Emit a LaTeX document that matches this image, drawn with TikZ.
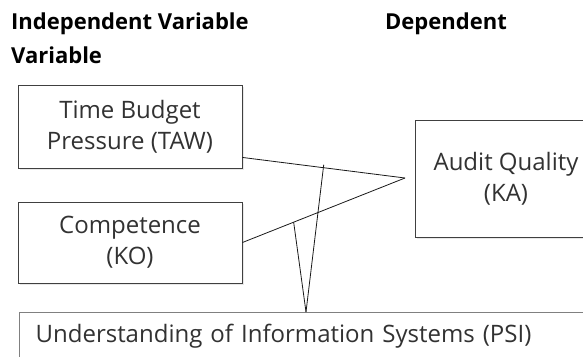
\documentclass[tikz,border=0pt]{standalone}
\usepackage{fontspec}
\setmainfont{Open Sans}
\usetikzlibrary{calc,shadows}
\definecolor{boxline}{RGB}{64,64,64}
\definecolor{psiline}{RGB}{128,128,128}
\definecolor{boxtext}{RGB}{50,50,50}
\tikzset{
  varbox/.style={draw=boxline, line width=0.9pt, fill=white, text=boxtext,
    align=center, inner sep=0pt, font=\fontsize{24}{31}\selectfont,
    drop shadow={shadow xshift=1.5pt, shadow yshift=-1.5pt, opacity=0.18}},
  headtxt/.style={anchor=base west, inner sep=0pt,
    font=\fontsize{22}{24}\selectfont\bfseries},
  link/.style={line width=0.8pt, black!90},
}

\begin{document}
\begin{tikzpicture}[x=1pt, y=-1pt]
    \useasboundingbox (0,0) rectangle (583,356);
    \node[headtxt] (indep) at (11,29) {Independent Variable};
    \node[headtxt] (indepb) at (11,63) {Variable};
    \node[headtxt] (dep) at (385,29) {Dependent};
    \node[varbox, minimum width=224pt, minimum height=83pt]
      (taw) at (130,126.5) {Time Budget\\Pressure (TAW)};
    \node[varbox, minimum width=224pt, minimum height=81pt]
      (ko) at (130,242.5) {Competence\\(KO)};
    \node[varbox, minimum width=182pt, minimum height=117pt]
      (ka) at (506,178.5) {Audit Quality\\(KA)};
    \node[varbox, draw=psiline, line width=1.3pt, anchor=north west,
      align=left, text width=568pt, inner xsep=16pt, inner ysep=8pt,
      text height=22pt, text depth=40pt]
      (psi) at (19,312) {Understanding of Information Systems (PSI)};
    \coordinate (katip) at (405,178);
    \coordinate (psitip) at (306,312);
    \coordinate (tawout) at ($(taw.south east)+(0,-11)$);
    \draw[link] (tawout) -- (katip);
    \draw[link] (ko.east) -- (katip);
    \draw[link] ($(tawout)!0.5!(katip)+(0,-3)$) -- (psitip);
    \draw[link] ($(ko.east)!0.315!(katip)$) -- (psitip);
  \end{tikzpicture}
\end{document}
